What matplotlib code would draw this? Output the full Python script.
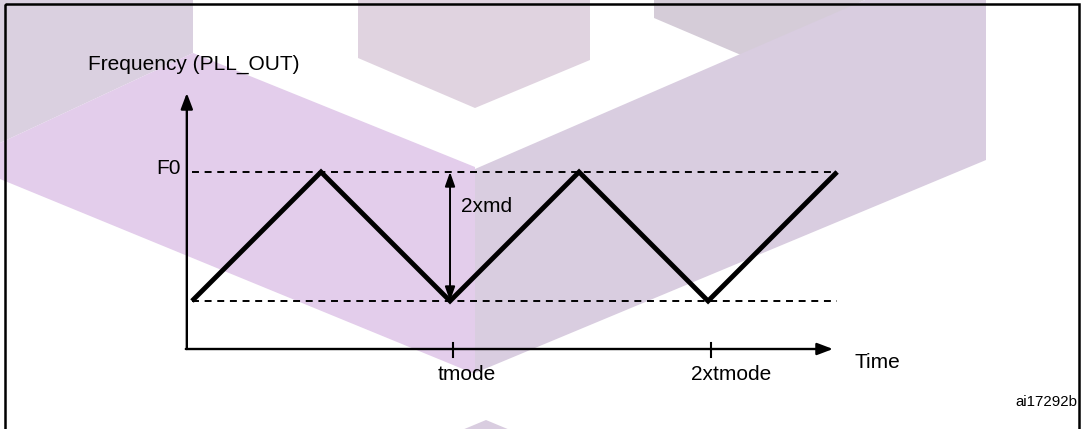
"""
Spread-spectrum modulation diagram: triangular PLL_OUT frequency vs time.
"""

import matplotlib
matplotlib.use("Agg")
import matplotlib.pyplot as plt
from matplotlib.patches import Polygon, Rectangle

# ---------------------------------------------------------------------------
# Data (time in units of tmode, frequency normalised: 0 = low, 1 = F0)
# ---------------------------------------------------------------------------
t_wave = [0.0, 0.5, 1.0, 1.5, 2.0, 2.5]
f_wave = [0.0, 1.0, 0.0, 1.0, 0.0, 1.0]
f_top = 1.0
f_low = 0.0
tick_pos = [1.0, 2.0]
tick_labels = ["tmode", "2xtmode"]
md_time = 1.0

plt.rcParams["font.family"] = ["Liberation Sans", "DejaVu Sans"]
plt.rcParams["lines.scale_dashes"] = False

W, H = 1083, 429
fig = plt.figure(figsize=(W / 100, H / 100), dpi=100)

# ---------------------------------------------------------------------------
# Background layer in pixel coordinates: watermark shapes + frame
# ---------------------------------------------------------------------------
bg = fig.add_axes([0, 0, 1, 1], zorder=0)
bg.set_xlim(0, W)
bg.set_ylim(H, 0)
bg.axis("off")

WATERMARK = [
    ([(0, 0), (193, 0), (193, 53), (0, 143)], "#dad0e0"),
    ([(358, 0), (358, 58), (475, 108), (590, 60), (590, 0)], "#e0d3e0"),
    ([(654, 0), (654, 18), (748, 58), (865, 0)], "#d5ccd8"),
    ([(0, 143), (193, 53), (475, 167), (475, 374), (0, 179)], "#e3cdeb"),
    ([(475, 169), (865, 0), (986, 0), (986, 160), (475, 373)], "#d9cde0"),
    ([(486, 420), (510, 430), (462, 430)], "#d9cde0"),
]
for pts, col in WATERMARK:
    bg.add_patch(Polygon(pts, closed=True, fc=col, ec="none"))

bg.add_patch(Rectangle((5, 4), 1074, 440, fill=False, ec="black", lw=1.8,
                       clip_on=False))
bg.text(1077, 402, "ai17292b", ha="right", va="center", fontsize=10.8,
        color="black")

# ---------------------------------------------------------------------------
# Diagram layer in data coordinates
# ---------------------------------------------------------------------------
ax = fig.add_axes([0, 0, 1, 1], zorder=1)
ax.patch.set_alpha(0)
ax.axis("off")
ax.set_xlim(-0.744, 3.453)
ax.set_ylim(-0.992, 2.333)

x0, y0 = -0.02, -0.372      # axis origin
x_end, y_end = 2.484, 1.612  # arrow tips

axis_arrow = dict(arrowstyle="-|>,head_length=9.5,head_width=3.6",
                  mutation_scale=1, lw=1.7, color="black",
                  shrinkA=0, shrinkB=0)
ax.annotate("", xy=(x0, y_end), xytext=(x0, y0), arrowprops=axis_arrow)
ax.annotate("", xy=(x_end, y0), xytext=(x0 - 0.004, y0), arrowprops=axis_arrow)

# dashed reference levels
for lvl in (f_top, f_low):
    ax.plot([t_wave[0], t_wave[-1]], [lvl, lvl], color="black", lw=1.4,
            dashes=(5.0, 4.1), solid_capstyle="butt")

# triangular modulation
ax.plot(t_wave, f_wave, color="black", lw=3.5, solid_joinstyle="miter",
        solid_capstyle="butt")

# 2 x md span
ax.annotate("", xy=(md_time, f_top), xytext=(md_time, f_low),
            arrowprops=dict(arrowstyle="<|-|>,head_length=8.5,head_width=3",
                            mutation_scale=1, lw=1.4, color="black",
                            shrinkA=0, shrinkB=0))
ax.text(md_time + 0.043, 0.729, "2xmd", ha="left", va="center", fontsize=15)

# time ticks and labels
LABEL_SHIFT_PX = [17, 23]
for t, lab, dx in zip(tick_pos, tick_labels, LABEL_SHIFT_PX):
    ax.plot([t + 0.012, t + 0.012], [-0.326, -0.434], color="black", lw=1.5)
    ax.annotate(lab, xy=(t, -0.566), xytext=(dx * 0.72, 0),
                textcoords="offset points", ha="center", va="center",
                fontsize=15)

ax.text(-0.043, f_top + 0.03, "F0", ha="right", va="center", fontsize=15)
ax.text(-0.403, 1.837, "Frequency (PLL_OUT)", ha="left", va="center",
        fontsize=15)
ax.text(2.566, -0.473, "Time", ha="left", va="center", fontsize=15)

fig.savefig("out.png", dpi=100)
